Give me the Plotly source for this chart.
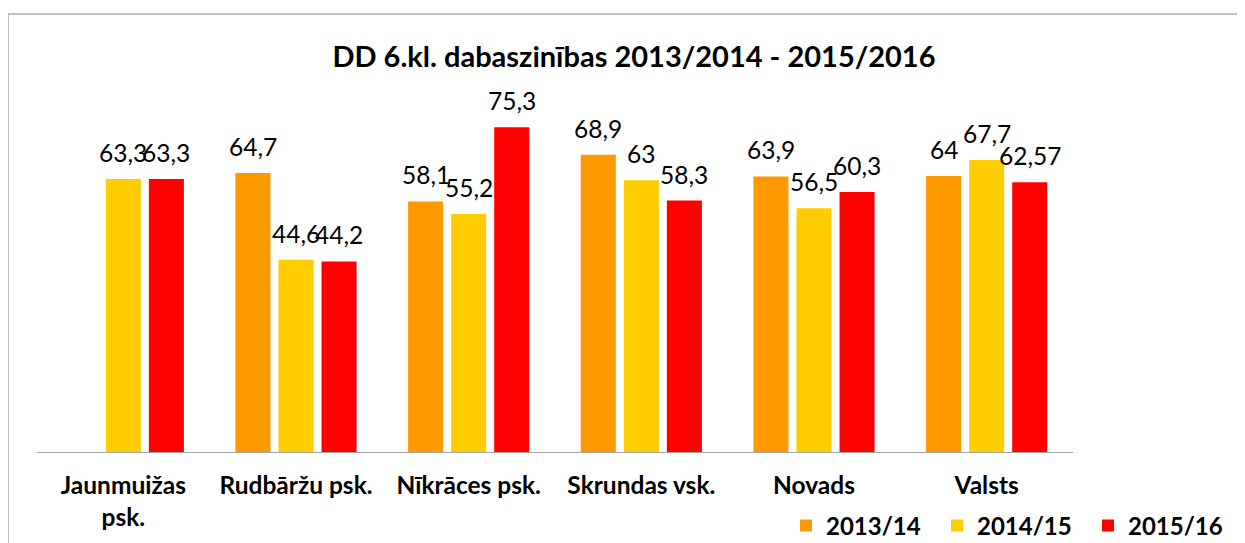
import plotly.graph_objects as go

categories = ["Jaunmuižas<br>psk.", "Rudbāržu psk.", "Nīkrāces psk.", "Skrundas vsk.", "Novads", "Valsts"]
series_names = ["2013/14", "2014/15", "2015/16"]
vals_2013 = [None, 64.7, 58.1, 68.9, 63.9, 64]
vals_2014 = [63.3, 44.6, 55.2, 63, 56.5, 67.7]
vals_2015 = [63.3, 44.2, 75.3, 58.3, 60.3, 62.57]
colors = ["#FF9900", "#FFCC00", "#FF0000"]

# the page body adds an 8px offset, so figure coords are shifted by -8
W, H = 1245, 543
L, R, T, B = 29, 180, 99, 99
BARGAP = 0.252
plot_w = W - L - R
plot_h = H - T - B
slot = plot_w / len(categories) * (1 - BARGAP) / 3

fig = go.Figure()
annotations = []
for i, (name, vals, col) in enumerate(zip(series_names, [vals_2013, vals_2014, vals_2015], colors)):
    fig.add_trace(go.Bar(
        x=categories,
        y=vals,
        name=name,
        marker=dict(color=col, line=dict(width=0)),
    ))
    # data labels above bars
    for c, v in zip(categories, vals):
        if v is None:
            continue
        annotations.append(dict(
            x=c, y=v, xref="x", yref="y",
            text=f"{v:g}".replace(".", ","),
            showarrow=False, yanchor="bottom",
            xshift=(i - 1) * slot, yshift=10,
            font=dict(family="Lato", size=24.5, color="#000000"),
        ))

fig.update_layout(
    width=W, height=H,
    margin=dict(l=L, r=R, t=T, b=B),
    paper_bgcolor="white",
    plot_bgcolor="white",
    barmode="group",
    bargap=BARGAP,
    bargroupgap=0.186,
    title=dict(
        text="<b>DD 6.kl. dabaszinības 2013/2014 - 2015/2016</b>",
        x=626 / W, xanchor="center",
        y=1 - 49 / H, yanchor="middle", yref="container",
        font=dict(family="Lato", size=29, color="#000000"),
    ),
    xaxis=dict(
        showline=True, linecolor="#A6A6A6", linewidth=1,
        ticks="", showgrid=False, automargin=False,
        ticklabelstandoff=12,
        tickfont=dict(family="Lato", size=24.5, color="#000000", weight="bold"),
    ),
    yaxis=dict(
        range=[0, 80], showgrid=False, zeroline=False,
        showticklabels=False, showline=False, automargin=False,
    ),
    legend=dict(
        orientation="h",
        xref="container", yref="container",
        x=778 / W, xanchor="left",
        y=1 - 518 / H, yanchor="middle",
        entrywidth=106,
        font=dict(family="Lato", size=24, color="#000000", weight="bold"),
    ),
    annotations=annotations,
    shapes=[dict(
        type="rect", xref="paper", yref="paper",
        x0=(0 - L) / plot_w, x1=(W + 10 - L) / plot_w,
        y0=-(B + 10) / plot_h, y1=1 + (T - 6) / plot_h,
        line=dict(color="#ABABAB", width=1.5),
        layer="below",
    )],
)

fig.write_html("out.html")
